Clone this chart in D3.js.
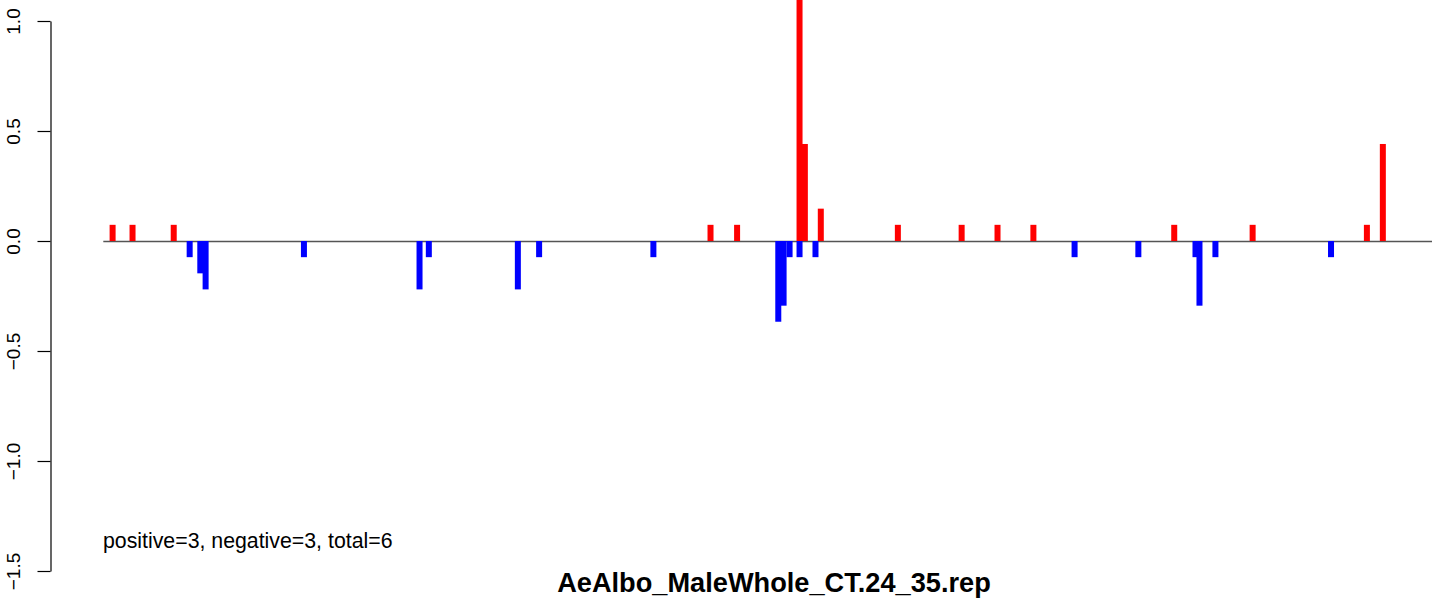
<!DOCTYPE html>
<html>
<head>
<meta charset="utf-8">
<script src="https://cdn.jsdelivr.net/npm/d3@7"></script>
<style>
  html, body { margin: 0; padding: 0; background: #fff; }
  svg { display: block; font-family: "Liberation Sans", Arial, Helvetica, sans-serif; }
</style>
</head>
<body>
<svg id="chart" width="1444" height="599"></svg>
<script>
// ---- data (positions along the sequence, scaled 0..1000) ----
const posPositions = [7, 22, 53, 457, 477, 524, 528, 540, 598, 646, 673, 700, 806, 865, 951, 963];
const posValues    = [0.0735, 0.0735, 0.0735, 0.0735, 0.0735, 1.3, 0.441, 0.147, 0.0735, 0.0735, 0.0735, 0.0735, 0.0735, 0.0735, 0.0735, 0.441];

const negPositions = [65, 73, 77, 151, 238, 245, 312, 328, 414, 508, 512, 516.5, 524, 536, 731, 779, 822, 825, 837, 924];
const negValues    = [-0.0735, -0.147, -0.22, -0.0735, -0.22, -0.0735, -0.22, -0.0735, -0.0735, -0.367, -0.294, -0.0735, -0.0735, -0.0735, -0.0735, -0.0735, -0.0735, -0.294, -0.0735, -0.0735];

const yTicks = [-1.5, -1.0, -0.5, 0.0, 0.5, 1.0];
const yTickLabels = ["\u22121.5", "\u22121.0", "\u22120.5", "0.0", "0.5", "1.0"];
const titleText = "AeAlbo_MaleWhole_CT.24_35.rep";
const subText = "positive=3, negative=3, total=6";

// ---- layout ----
const svg = d3.select("#chart");
const x = d3.scaleLinear().domain([0, 1000]).range([103.3, 1432]);
const y = d3.scaleLinear().domain([-1.5, 1.0]).range([571, 21]);
const yTop = 1.1; // plot region limit
const barW = 6;

svg.append("defs").append("clipPath").attr("id", "plotclip")
  .append("rect").attr("x", 0).attr("y", y(yTop)).attr("width", 1444).attr("height", y(-1.6) - y(yTop));

// zero line
svg.append("line")
  .attr("x1", x(0)).attr("x2", x(1000))
  .attr("y1", y(0) + 0.5).attr("y2", y(0) + 0.5)
  .attr("stroke", "#555").attr("stroke-width", 1.3);

const g = svg.append("g").attr("clip-path", "url(#plotclip)");

const posData = posPositions.map((p, i) => ({ p, v: posValues[i] }));
const negData = negPositions.map((p, i) => ({ p, v: negValues[i] }));

g.selectAll("rect.neg").data(negData).join("rect")
  .attr("class", "neg")
  .attr("x", d => x(d.p) - barW / 2)
  .attr("width", barW)
  .attr("y", y(0))
  .attr("height", d => y(d.v) - y(0))
  .attr("fill", "#0000ff");

g.selectAll("rect.pos").data(posData).join("rect")
  .attr("class", "pos")
  .attr("x", d => x(d.p) - barW / 2)
  .attr("width", barW)
  .attr("y", d => y(d.v))
  .attr("height", d => y(0) - y(d.v))
  .attr("fill", "#ff0000");

// y axis
const axis = d3.axisLeft(y)
  .tickValues(yTicks)
  .tickFormat((d, i) => yTickLabels[i])
  .tickSize(13)
  .tickSizeOuter(0);

const ag = svg.append("g").attr("transform", "translate(50.5,0)").call(axis);
ag.select(".domain").attr("stroke", "#000").attr("stroke-width", 1.2);
ag.selectAll(".tick line").attr("stroke", "#000").attr("stroke-width", 1.2);
ag.selectAll(".tick text")
  .attr("x", null).attr("dy", null)
  .attr("transform", "translate(-30.5,0) rotate(-90)")
  .attr("text-anchor", "middle")
  .attr("fill", "#000")
  .style("font-size", "19px")
  .style("font-family", "'Liberation Sans', Arial, sans-serif");

// subtitle text
svg.append("text")
  .attr("x", 103).attr("y", 548)
  .style("font-size", "21.3px")
  .attr("fill", "#000")
  .text(subText);

// title at bottom
svg.append("text")
  .attr("x", 774).attr("y", 592)
  .attr("text-anchor", "middle")
  .style("font-size", "27.2px")
  .style("font-weight", "bold")
  .attr("fill", "#000")
  .text(titleText);
</script>
</body>
</html>
